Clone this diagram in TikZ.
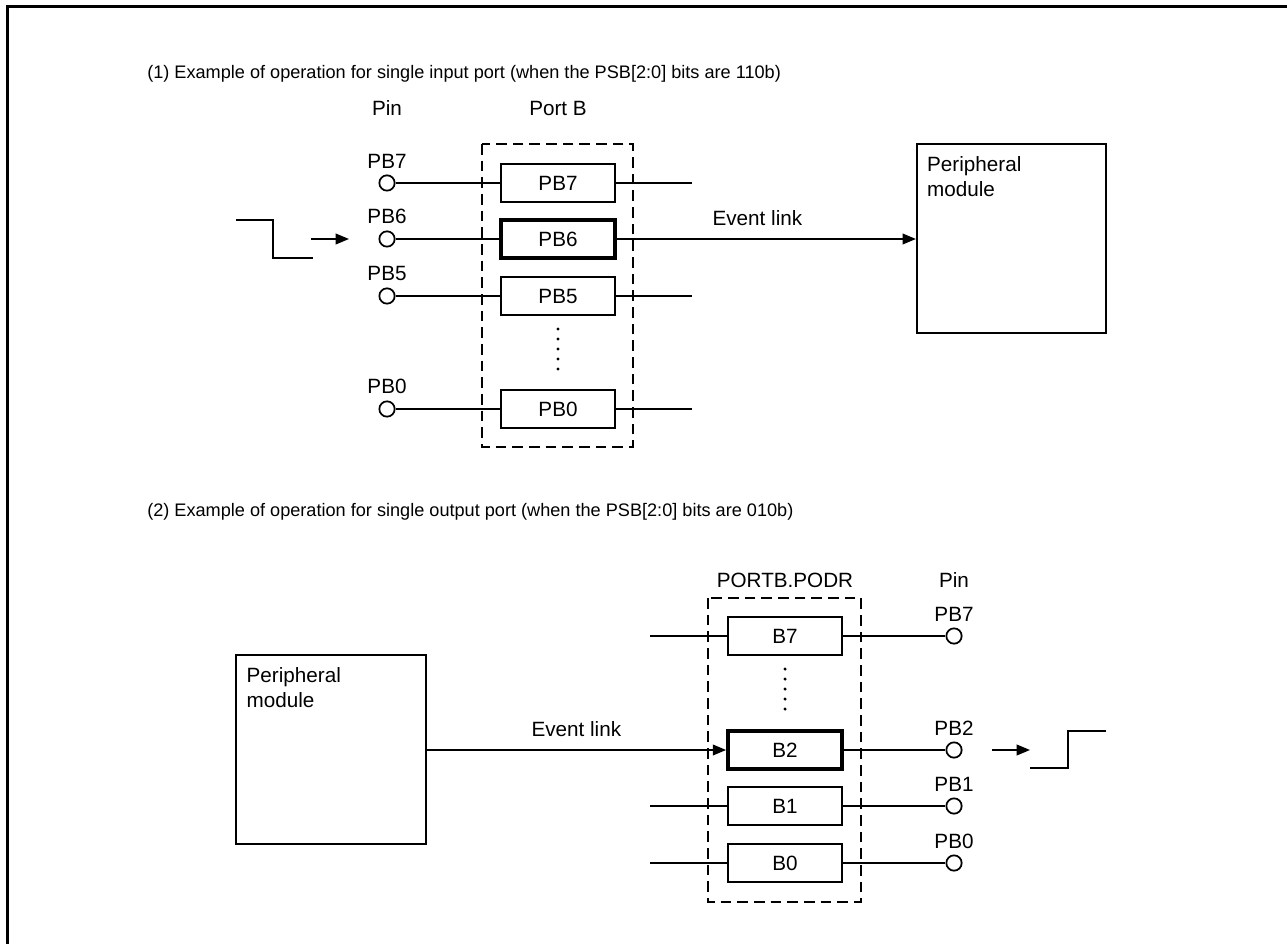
\documentclass[tikz,border=0pt]{standalone}
\usepackage{fontspec}
\setmainfont{Liberation Sans}
\usetikzlibrary{arrows.meta}

\begin{document}
\begin{tikzpicture}[x=0.75pt, y=-0.75pt,
    every node/.style={font=\fontsize{15.5}{18.75}\selectfont, inner sep=0pt},
    reg/.style={draw, line width=1.3pt, minimum width=85.5pt, minimum height=28.5pt},
    sel/.style={reg, line width=2.8pt},
    pad/.style={draw, circle, line width=1.3pt, minimum size=11.5pt},
    wire/.style={line width=1.3pt},
    grp/.style={draw, line width=2.2pt, dash pattern=on 8pt off 4.5pt},
    modbox/.style={draw, line width=1.4pt, minimum width=142pt, minimum height=141.5pt},
    title/.style={font=\fontsize{13.6}{16}\selectfont, anchor=west},
    ev/.style={-{Triangle[length=10pt,width=8pt]}, line width=1.3pt}]
    \useasboundingbox (0,0) rectangle (1287,944);
    % frame
    \draw[line width=2.4pt] (7.5,944) -- (7.5,6.5) -- (1287,6.5);

    % (1) single input port
    \node[title] (titleA) at (147,74) {(1) Example of operation for single input port (when the PSB[2:0] bits are 110b)};
    \node (pinA) at (387,108) {Pin};
    \node (portA) at (558,108) {Port B};
    \draw[grp] (482,144) rectangle (633,447);
    \foreach \b/\y/\s in {7/183/reg,6/239/sel,5/296/reg,0/409/reg}{
        \node[\s] (rA\b) at (558,\y) {PB\b};
        \node[pad] (pA\b) at (387,\y) {};
        \node[above=4.5pt] (lA\b) at (pA\b.north) {PB\b};
        \draw[wire] (pA\b) -- (rA\b);
    }
    \foreach \b in {7,5,0}{
        \coordinate (oA\b) at ([xshift=57pt]rA\b.east);
        \draw[wire] (rA\b) -- (oA\b);
    }
    \foreach \d in {0,...,4}
        \fill (558,329+10*\d) circle[radius=1.3pt];
    \node[modbox] (modA) at (1011.5,238.5) {};
    \node[anchor=north west, align=left] (txtA) at ([xshift=8.25pt,yshift=-9.75pt]modA.north west) {Peripheral\\module};
    \draw[ev] (rA6) -- (rA6 -| modA.west) node[pos=0.47, above=9pt] (evA) {Event link};
    % falling edge
    \coordinate (wA) at (236,220);
    \draw[wire] (wA) -- ++(37,0) -- ++(0,38) -- ++(40,0);
    \coordinate (aA) at (311,239);
    \draw[ev] (aA) -- ++(38,0);

    % (2) single output port
    \node[title] (titleB) at (147,512) {(2) Example of operation for single output port (when the PSB[2:0] bits are 010b)};
    \node (portB) at (785,580) {PORTB.PODR};
    \node (pinB) at (954,580) {Pin};
    \draw[grp] (708,598) rectangle (861,902);
    \foreach \b/\y/\s in {7/636/reg,2/750/sel,1/806/reg,0/863/reg}{
        \node[\s] (rB\b) at (785,\y) {B\b};
        \node[pad] (pB\b) at (954,\y) {};
        \node[above=4.5pt] (lB\b) at (pB\b.north) {PB\b};
        \draw[wire] (rB\b) -- (pB\b);
    }
    \foreach \b in {7,1,0}{
        \coordinate (iB\b) at ([xshift=-57.75pt]rB\b.west);
        \draw[wire] (iB\b) -- (rB\b);
    }
    \foreach \d in {0,...,4}
        \fill (785,669+10*\d) circle[radius=1.3pt];
    \node[modbox] (modB) at (331,749.5) {};
    \node[anchor=north west, align=left] (txtB) at ([xshift=8.25pt,yshift=-9.75pt]modB.north west) {Peripheral\\module};
    \draw[ev] (modB.east |- rB2) -- (rB2) node[pos=0.5, above=9pt] (evB) {Event link};
    % rising edge
    \coordinate (aB) at (992,750);
    \draw[ev] (aB) -- ++(38,0);
    \coordinate (wB) at (1030,768);
    \draw[wire] (wB) -- ++(38,0) -- ++(0,-37) -- ++(38,0);
\end{tikzpicture}
\end{document}
